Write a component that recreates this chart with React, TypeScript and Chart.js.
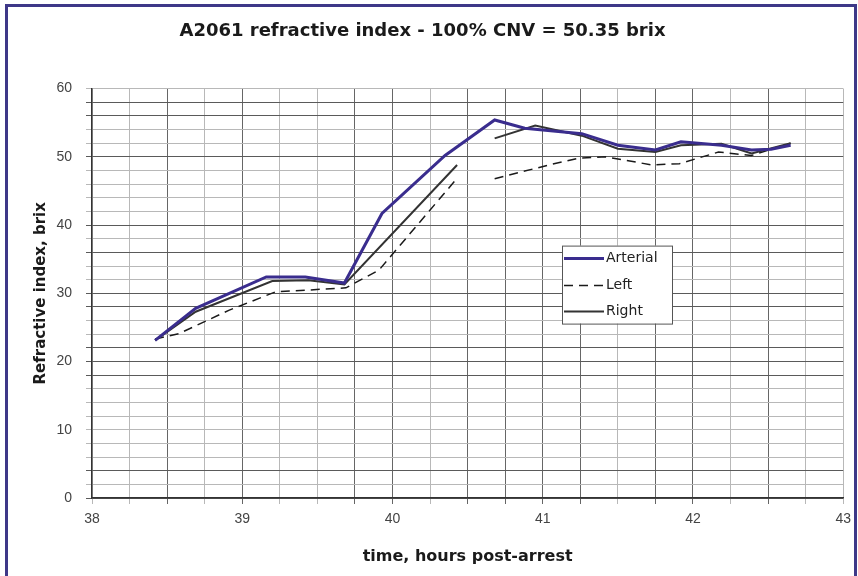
import React, { useEffect, useRef } from "react";
import { Chart, registerables } from "chart.js";

Chart.register(...registerables);

const titleText = "A2061 refractive index - 100% CNV = 50.35 brix";
const xTitle = "time, hours post-arrest";
const yTitle = "Refractive index, brix";
const seriesNames = ["Arterial", "Left", "Right"];

const arterialTime = [38.42, 38.69, 39.16, 39.42, 39.68, 39.93, 40.35, 40.68, 40.88, 41.26, 41.5, 41.75, 41.92, 42.19, 42.39, 42.52, 42.65];
const arterialBrix = [23.1, 27.8, 32.4, 32.4, 31.5, 41.7, 50.2, 55.4, 54.2, 53.4, 51.7, 51.0, 52.2, 51.7, 51.0, 51.1, 51.7];

const leftTime = [38.42, 38.58, 38.91, 39.22, 39.69, 39.91, 40.42, 40.55, 40.68, 41.04, 41.24, 41.42, 41.73, 41.91, 42.17, 42.39, 42.65];
const leftBrix = [23.3, 24.1, 27.5, 30.2, 30.8, 33.4, 46.6, null, 46.8, 48.8, 49.8, 50.0, 48.8, 49.0, 50.7, 50.2, 52.0];

const rightTime = [38.42, 38.69, 39.2, 39.44, 39.68, 40.43, 40.55, 40.68, 40.95, 41.26, 41.5, 41.75, 41.92, 42.19, 42.39, 42.65];
const rightBrix = [23.1, 27.3, 31.8, 31.9, 31.3, 48.8, null, 52.7, 54.6, 53.1, 51.2, 50.7, 51.7, 51.9, 50.5, 52.0];

const xMin = 38;
const xMax = 43;
const yMin = 0;
const yMax = 60;

const darkX = [38.5, 39, 39.75, 40, 40.5, 40.75, 41, 41.25, 41.75, 42, 42.5];
const darkY = [0, 4, 18, 20, 22, 28, 30, 36, 40, 50, 56, 58];

const toPoints = (xs: number[], ys: (number | null)[]) => xs.map((x, i) => ({ x, y: ys[i] }));

const FONT = "'DejaVu Sans', Verdana, sans-serif";
const TICKFONT = "Arial, 'Liberation Sans', sans-serif";

const legendPlugin = {
  id: "boxLegend",
  afterDatasetsDraw(chart: any) {
    const { ctx, chartArea } = chart;
    const left = chartArea.left + 470;
    const top = chartArea.top + 157;
    const w = 110;
    const h = 78;
    ctx.save();
    ctx.fillStyle = "#ffffff";
    ctx.fillRect(left, top, w, h);
    ctx.strokeStyle = "#555";
    ctx.lineWidth = 1;
    ctx.strokeRect(left + 0.5, top + 0.5, w, h);
    const items = chart.data.datasets;
    const rows = [13, 40, 66];
    items.forEach((ds: any, i: number) => {
      const yy = top + rows[i];
      ctx.beginPath();
      ctx.strokeStyle = ds.borderColor;
      ctx.lineWidth = ds.borderWidth;
      ctx.setLineDash(ds.borderDash || []);
      ctx.moveTo(left + 2, yy);
      ctx.lineTo(left + 42, yy);
      ctx.stroke();
      ctx.setLineDash([]);
      ctx.fillStyle = "#222";
      ctx.font = `14px ${FONT}`;
      ctx.textBaseline = "middle";
      ctx.fillText(ds.label, left + 44, yy);
    });
    ctx.restore();
  },
};

export default function App() {
  const ref = useRef<HTMLCanvasElement | null>(null);

  useEffect(() => {
    if (!ref.current) return;
    const chart = new Chart(ref.current, {
      type: "line",
      data: {
        datasets: [
          {
            label: seriesNames[0],
            data: toPoints(arterialTime, arterialBrix),
            borderColor: "#3a2d8e",
            borderWidth: 3,
            pointRadius: 0,
            tension: 0,
            order: 0,
          },
          {
            label: seriesNames[1],
            data: toPoints(leftTime, leftBrix),
            borderColor: "#1a1a1a",
            borderWidth: 1.5,
            borderDash: [9, 6],
            pointRadius: 0,
            tension: 0,
            order: 2,
          },
          {
            label: seriesNames[2],
            data: toPoints(rightTime, rightBrix),
            borderColor: "#333333",
            borderWidth: 2,
            pointRadius: 0,
            tension: 0,
            order: 1,
          },
        ] as any,
      },
      options: {
        animation: false,
        responsive: false,
        spanGaps: false,
        layout: { padding: { left: 0, right: 13, top: 0, bottom: 0 } },
        plugins: {
          legend: { display: false },
          tooltip: { enabled: false },
          title: {
            display: true,
            text: titleText,
            color: "#1a1a1a",
            font: { family: FONT, size: 18, weight: "bold" },
            padding: { top: 21, bottom: 46 },
          },
        },
        scales: {
          x: {
            type: "linear",
            min: xMin,
            max: xMax,
            afterFit: (s: any) => {
              s.height = 78;
            },
            ticks: {
              stepSize: 0.25,
              autoSkip: false,
              maxRotation: 0,
              padding: 7,
              color: "#444",
              font: { family: TICKFONT, size: 14 },
              callback: (v: any) => (Math.abs(v - Math.round(v)) < 1e-6 ? String(Math.round(v)) : ""),
            },
            grid: {
              tickLength: 6,
              lineWidth: 1,
              color: (c: any) => {
                const v = c.tick ? c.tick.value : 0;
                return darkX.some((d) => Math.abs(d - v) < 1e-6) ? "#666" : "#b8b8b8";
              },
            },
            border: { color: "#333", width: 1.5 },
            title: {
              display: true,
              text: xTitle,
              color: "#1a1a1a",
              font: { family: FONT, size: 16, weight: "bold" },
              padding: { top: 0, bottom: 10 },
            },
          },
          y: {
            type: "linear",
            min: yMin,
            max: yMax,
            afterFit: (s: any) => {
              s.width = 92;
            },
            ticks: {
              stepSize: 2,
              autoSkip: false,
              padding: 14,
              color: "#444",
              font: { family: TICKFONT, size: 14 },
              callback: (v: any) => (Math.round(v) % 10 === 0 ? String(Math.round(v)) : ""),
            },
            grid: {
              tickLength: 6,
              lineWidth: 1,
              color: (c: any) => {
                const v = c.tick ? c.tick.value : 0;
                return darkY.some((d) => Math.abs(d - v) < 1e-6) ? "#5a5a5a" : "#b8b8b8";
              },
            },
            border: { color: "#333", width: 1.5 },
            title: {
              display: true,
              text: yTitle,
              color: "#1a1a1a",
              font: { family: FONT, size: 15, weight: "bold" },
              padding: { top: 32, bottom: 0 },
            },
          },
        },
      } as any,
      plugins: [legendPlugin],
    });
    return () => chart.destroy();
  }, []);

  return (
    <div>
      <div
        style={{
          position: "fixed",
          left: 5,
          top: 4,
          width: 852,
          height: 590,
          border: "3px solid #3e3888",
          boxSizing: "border-box",
          background: "#fff",
        }}
      />
      <canvas
        ref={ref}
        width={858}
        height={576}
        style={{ position: "fixed", left: 0, top: 0, width: 858, height: 576 }}
      />
    </div>
  );
}
